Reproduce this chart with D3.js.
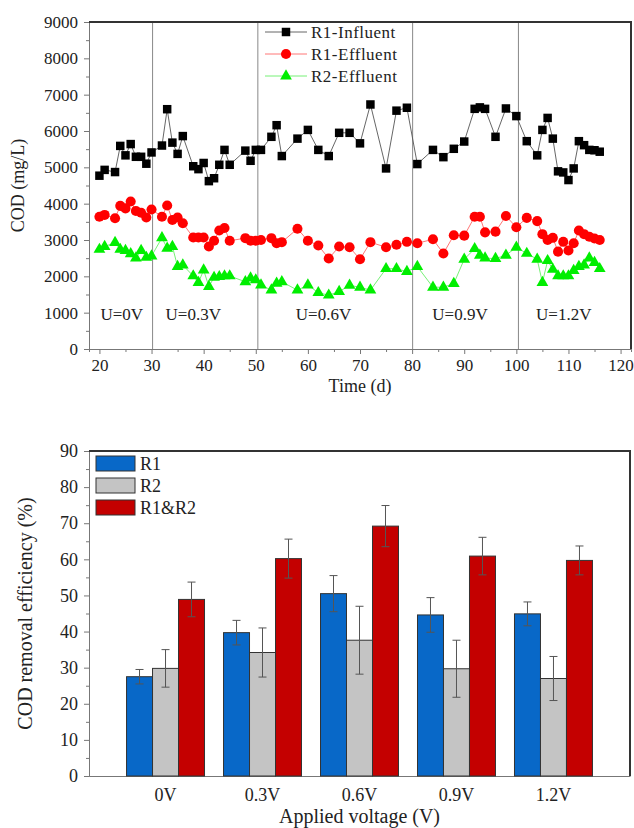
<!DOCTYPE html>
<html><head>
<meta charset="utf-8">
<title>COD</title>
<style>
  body {margin:0; background:#fff;}
  svg text {font-family:"Liberation Serif","Times New Roman",serif; fill:#222;}
</style>
</head>
<body>
<svg id="chart" width="634" height="828"></svg>
<script src="https://d3js.org/d3.v7.min.js"></script>
<script>
// ---- top chart data: COD over time
var days = [20,21,23,24,25,26,27,28,29,30,32,33,34,35,36,38,39,40,41,42,
            43,44,45,48,49,50,51,53,54,55,58,60,62,64,66,68,70,72,75,77,
            79,81,84,86,88,90,92,93,94,96,98,100,102,104,105,106,107,108,109,110,
            111,112,113,114,115,116];
var r1Influent = [4770,4930,4870,5590,5330,5640,5290,5290,5100,5410,
                  5600,6600,5680,5370,5860,5030,4950,5120,4620,4700,
                  5070,5480,5070,5460,5180,5480,5480,5840,6160,5310,
                  5790,6030,5480,5310,5950,5950,5660,6730,4970,6560,
                  6640,5090,5480,5280,5510,5710,6610,6650,6610,5840,
                  6620,6410,5720,5330,6030,6360,5790,4890,4860,4650,
                  4970,5720,5610,5480,5470,5430];
var r1Effluent = [3640,3690,3600,3940,3870,4060,3800,3750,3620,3840,
                  3640,3950,3550,3620,3460,3070,3070,3070,2820,2980,
                  3260,3330,2980,3050,2980,2980,3000,3050,2910,2940,
                  3310,2980,2850,2490,2820,2800,2470,2940,2800,2870,
                  2950,2910,3020,2630,3130,3120,3640,3640,3210,3230,
                  3660,3350,3610,3520,3160,3000,3060,2680,2950,2710,
                  2910,3260,3160,3090,3040,3000];
var r2Effluent = [2740,2820,2930,2740,2710,2620,2500,2710,2520,2560,
                  3060,2770,2820,2270,2310,2010,1830,2170,1720,1970,
                  1990,2010,2010,1850,1950,1900,1760,1620,1810,1850,
                  1620,1760,1550,1480,1580,1750,1700,1620,2210,2210,
                  2130,2270,1700,1700,1800,2470,2760,2580,2500,2490,
                  2580,2800,2630,2470,1830,2430,2190,2010,2010,2010,
                  2160,2270,2310,2500,2380,2210];
var lineNames = ["R1-Influent","R1-Effluent","R2-Effluent"];
var stageBreaks = [30.2, 50.4, 80.1, 100.4];
var stageLabels = ["U=0V","U=0.3V","U=0.6V","U=0.9V","U=1.2V"];
var stageLabelDay = [24.3, 38, 63, 89.2, 109.1];
var codTicks = d3.range(0, 9001, 1000);
var dayTicks = d3.range(20, 121, 10);

// ---- bottom chart data: removal efficiency
var voltages = ["0V","0.3V","0.6V","0.9V","1.2V"];
var barNames = ["R1","R2","R1&R2"];
var r1Removal = [27.5,39.7,50.5,44.6,44.9];
var r1Err     = [2.0,3.4,5.0,4.8,3.3];
var r2Removal = [29.8,34.2,37.6,29.7,27.0];
var r2Err     = [5.2,6.8,9.4,7.9,6.1];
var bothRemoval = [48.9,60.2,69.2,60.9,59.7];
var bothErr     = [4.8,5.4,5.7,5.2,4.0];
var effTicks = d3.range(0, 91, 10);

var svg = d3.select("#chart");
var serif = "'Liberation Serif', 'Times New Roman', serif";

function styleAxis(g, fs) {
    g.attr("font-family", null);
    g.selectAll(".domain").attr("stroke", "#777");
    g.selectAll(".tick line").attr("stroke", "#777");
    g.selectAll(".tick text").attr("font-size", fs).attr("fill", "#222")
        .style("font-family", serif);
}

// ================= top chart =================
var L1 = 89, R1 = 631, T1 = 22, B1 = 349;
var x1 = d3.scaleLinear().domain([18, 122]).range([L1, R1]);
var y1 = d3.scaleLinear().domain([0, 9000]).range([B1, T1]);

// stage separators
svg.append("g").selectAll("line")
    .data(stageBreaks).enter().append("line")
    .attr("x1", function(d){ return x1(d); })
    .attr("x2", function(d){ return x1(d); })
    .attr("y1", y1(9000)).attr("y2", y1(0))
    .attr("stroke", "#888").attr("stroke-width", 1);

// minor ticks
svg.append("g").attr("transform", "translate(" + L1 + ",0)")
    .call(d3.axisLeft(y1).tickValues(d3.range(500, 9000, 1000)).tickSize(3).tickFormat(""))
    .call(function(g){ styleAxis(g, 17); });
svg.append("g").attr("transform", "translate(0," + B1 + ")")
    .call(d3.axisBottom(x1).tickValues(d3.range(25, 121, 10)).tickSize(3).tickFormat(""))
    .call(function(g){ styleAxis(g, 17); });
// major ticks
svg.append("g").attr("transform", "translate(" + L1 + ",0)")
    .call(d3.axisLeft(y1).tickValues(codTicks).tickFormat(d3.format("d"))
        .tickSize(5).tickSizeOuter(0).tickPadding(6))
    .call(function(g){ styleAxis(g, 17); });
svg.append("g").attr("transform", "translate(0," + B1 + ")")
    .call(d3.axisBottom(x1).tickValues(dayTicks).tickFormat(d3.format("d"))
        .tickSize(5).tickSizeOuter(0).tickPadding(5))
    .call(function(g){ styleAxis(g, 17); });

// frame top / right
svg.append("path")
    .attr("d", "M" + L1 + "," + T1 + "H" + R1 + "V" + B1)
    .attr("fill", "none").attr("stroke", "#333").attr("stroke-width", 2);

var series = [
    {name: lineNames[0], values: r1Influent, color: "#000000", line: "#555", sym: d3.symbolSquare, size: 72},
    {name: lineNames[1], values: r1Effluent, color: "#ff0000", line: "#f66", sym: d3.symbolCircle, size: 80},
    {name: lineNames[2], values: r2Effluent, color: "#00ee00", line: "#6e6", sym: d3.symbolTriangle, size: 60}
];

var line = d3.line()
    .x(function(d){ return x1(d[0]); })
    .y(function(d){ return y1(d[1]); });

series.forEach(function(s) {
    var pts = days.map(function(d, i){ return [d, s.values[i]]; });
    svg.append("path").datum(pts)
        .attr("d", line).attr("fill", "none")
        .attr("stroke", s.line).attr("stroke-width", 0.9);
    svg.append("g").selectAll("path")
        .data(pts).enter().append("path")
        .attr("d", d3.symbol().type(s.sym).size(s.size))
        .attr("transform", function(d){ return "translate(" + x1(d[0]) + "," + y1(d[1]) + ")"; })
        .attr("fill", s.color);
});

// legend
var leg = svg.append("g").selectAll("g")
    .data(series).enter().append("g")
    .attr("transform", function(d, i){ return "translate(265," + (32 + i * 22) + ")"; });
leg.append("line").attr("x1", 0).attr("x2", 42)
    .attr("stroke", function(d){ return d.line; }).attr("stroke-width", 0.9);
leg.append("path")
    .attr("d", function(d){ return d3.symbol().type(d.sym).size(d.size)(); })
    .attr("transform", "translate(21,0)")
    .attr("fill", function(d){ return d.color; });
leg.append("text").attr("x", 46).attr("y", 6)
    .attr("font-size", 17).attr("letter-spacing", 0.5)
    .text(function(d){ return d.name; });

// stage labels
svg.append("g").selectAll("text")
    .data(stageLabels).enter().append("text")
    .attr("x", function(d, i){ return x1(stageLabelDay[i]); })
    .attr("y", y1(800))
    .attr("text-anchor", "middle").attr("font-size", 17)
    .text(function(d){ return d; });

// axis titles
svg.append("text").attr("x", (L1 + R1) / 2).attr("y", 392)
    .attr("text-anchor", "middle").attr("font-size", 18).text("Time (d)");
svg.append("text")
    .attr("transform", "translate(24," + ((T1 + B1) / 2) + ") rotate(-90)")
    .attr("text-anchor", "middle").attr("font-size", 18).text("COD (mg/L)");

// ================= bottom chart =================
var L2 = 89, R2 = 630, T2 = 451, B2 = 776;
var x2 = d3.scaleBand().domain(voltages).range([L2, R2]).paddingInner(0.196).paddingOuter(0.387);
var xs = d3.scaleBand().domain(barNames).range([0, x2.bandwidth()]);
var y2 = d3.scaleLinear().domain([0, 90]).range([B2, T2]);
var barColors = ["#0868c8", "#c4c4c4", "#c40000"];
var barMeans = [r1Removal, r2Removal, bothRemoval];
var barErrs = [r1Err, r2Err, bothErr];

svg.append("g").attr("transform", "translate(" + L2 + ",0)")
    .call(d3.axisLeft(y2).tickValues(d3.range(5, 90, 10)).tickSize(3).tickFormat(""))
    .call(function(g){ styleAxis(g, 18); });
svg.append("g").attr("transform", "translate(" + L2 + ",0)")
    .call(d3.axisLeft(y2).tickValues(effTicks).tickSize(5).tickSizeOuter(0).tickPadding(6))
    .call(function(g){ styleAxis(g, 18); });
svg.append("g").attr("transform", "translate(0," + B2 + ")")
    .call(d3.axisBottom(x2).tickSize(0).tickSizeOuter(0).tickPadding(12))
    .call(function(g){ styleAxis(g, 18); });
svg.append("path")
    .attr("d", "M" + L2 + "," + T2 + "H" + R2 + "V" + B2)
    .attr("fill", "none").attr("stroke", "#333").attr("stroke-width", 2);

var bars = [];
barNames.forEach(function(n, k) {
    voltages.forEach(function(v, i) {
        bars.push({name: n, k: k, v: v, mean: barMeans[k][i], err: barErrs[k][i]});
    });
});

var bg = svg.append("g").selectAll("g").data(bars).enter().append("g");
bg.append("rect")
    .attr("x", function(d){ return x2(d.v) + xs(d.name); })
    .attr("width", xs.bandwidth())
    .attr("y", function(d){ return y2(d.mean); })
    .attr("height", function(d){ return y2(0) - y2(d.mean); })
    .attr("fill", function(d){ return barColors[d.k]; })
    .attr("stroke", "#333").attr("stroke-width", 1);
bg.append("path")
    .attr("d", function(d){
        var cx = x2(d.v) + xs(d.name) + xs.bandwidth() / 2;
        var hi = y2(d.mean + d.err), lo = y2(d.mean - d.err);
        return "M" + (cx - 4) + "," + hi + "H" + (cx + 4) +
               "M" + cx + "," + hi + "V" + lo +
               "M" + (cx - 4) + "," + lo + "H" + (cx + 4);
    })
    .attr("fill", "none").attr("stroke", "#555").attr("stroke-width", 1);

var leg2 = svg.append("g").selectAll("g")
    .data(barNames).enter().append("g")
    .attr("transform", function(d, i){ return "translate(96," + (456 + i * 22) + ")"; });
leg2.append("rect").attr("width", 39).attr("height", 15)
    .attr("fill", function(d, i){ return barColors[i]; })
    .attr("stroke", "#333").attr("stroke-width", 1);
leg2.append("text").attr("x", 44).attr("y", 14).attr("font-size", 18)
    .text(function(d){ return d; });

svg.append("text").attr("x", (L2 + R2) / 2).attr("y", 823)
    .attr("text-anchor", "middle").attr("font-size", 20).text("Applied voltage (V)");
svg.append("text")
    .attr("transform", "translate(32," + ((T2 + B2) / 2) + ") rotate(-90)")
    .attr("text-anchor", "middle").attr("font-size", 20).text("COD removal efficiency (%)");
</script>
</body></html>
